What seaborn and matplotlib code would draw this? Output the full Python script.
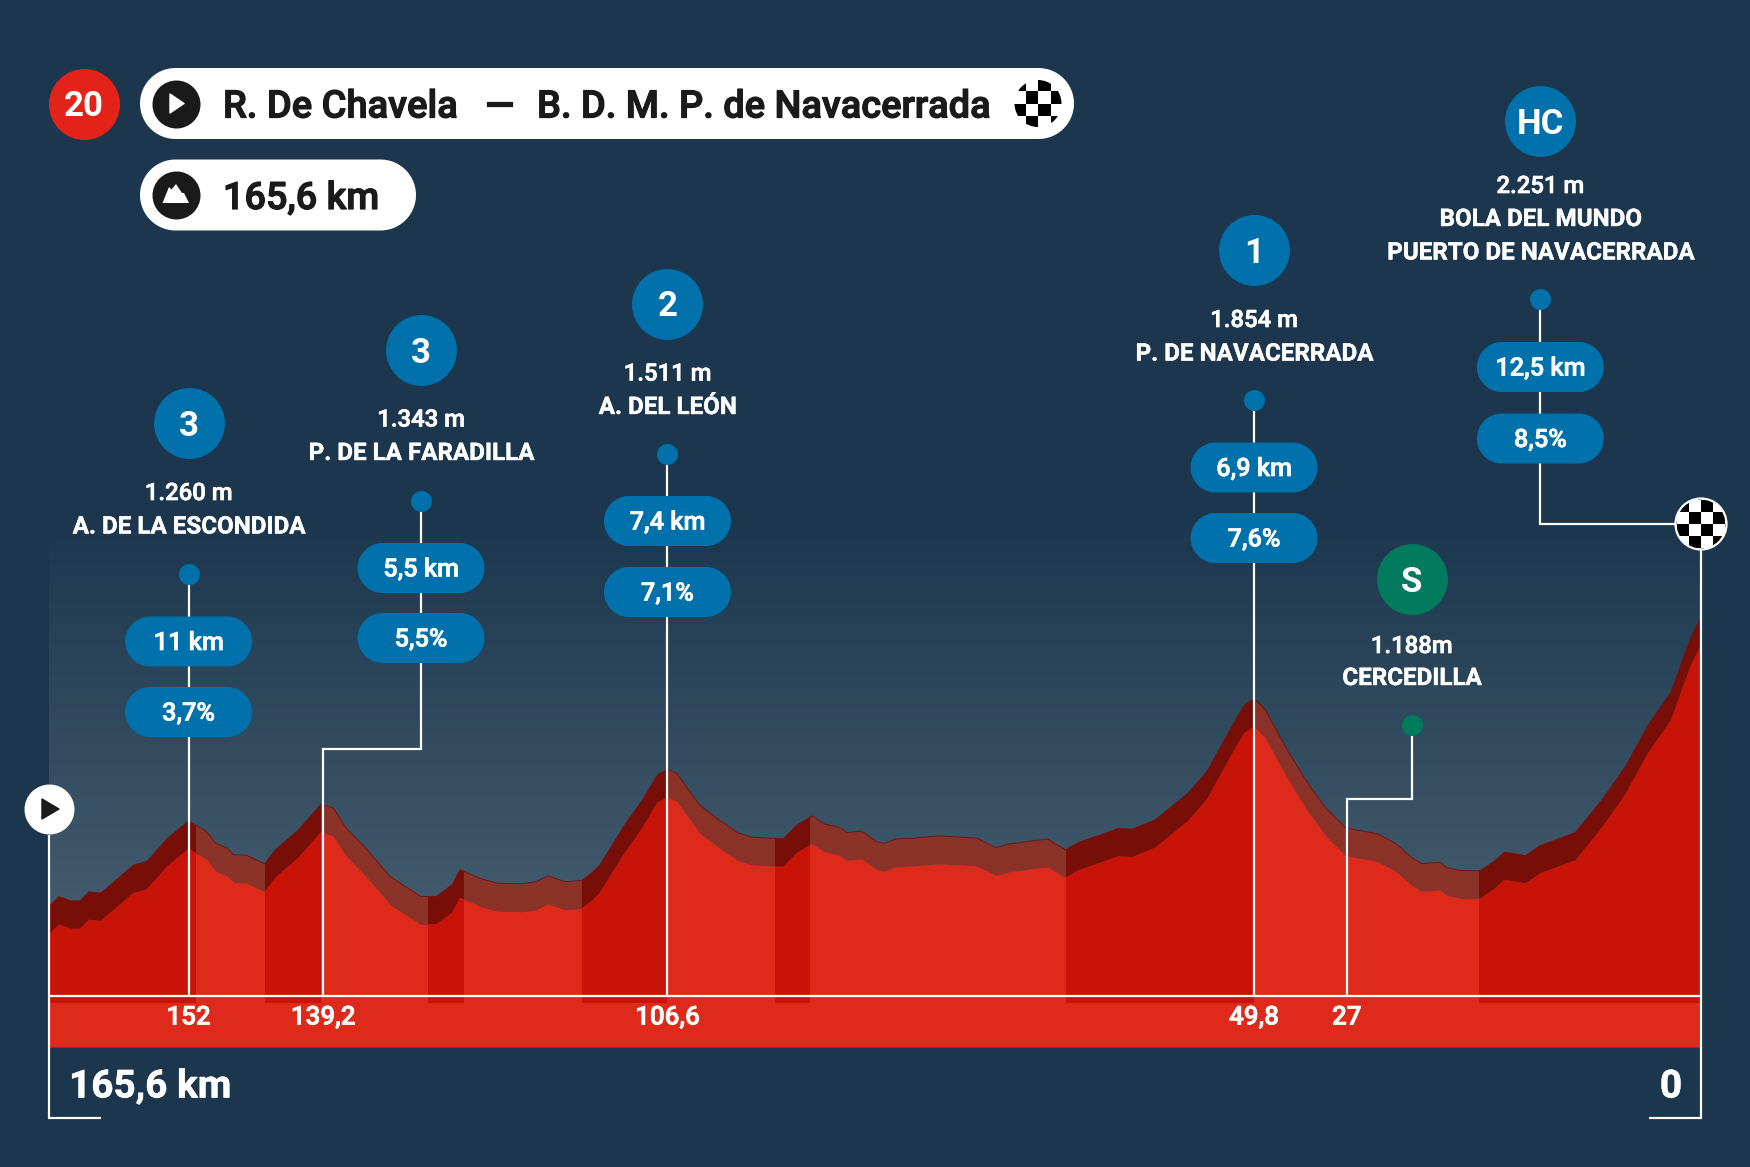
import matplotlib
matplotlib.use("Agg")
import matplotlib.pyplot as plt
import matplotlib.patheffects as pe
from matplotlib.colors import LinearSegmentedColormap
from matplotlib.patches import Circle, Polygon, Rectangle
import numpy as np
import seaborn as sns

sns.set_theme(style="white")
plt.rcParams["font.family"] = ["Roboto", "DejaVu Sans"]

# elevation profile (km to finish, metres)
profile_km = [165.6, 164.6, 163.4, 162.5, 161.6, 160.4, 157.1, 155.8, 153.7, 151.6, 149.8, 148.9, 147.7, 147.1,
              145.8, 144.0, 142.9, 140.6, 138.3, 137.1, 135.8, 133.7, 131.4, 128.3, 126.8, 125.2, 124.4, 122.2,
              120.6, 118.3, 116.8, 115.6, 113.9, 112.2, 111.2, 110.4, 108.1, 106.1, 104.6, 103.6, 102.7, 100.4,
              98.9, 96.6, 95.2, 92.0, 90.6, 89.1, 87.9, 86.4, 85.6, 84.1, 82.7, 81.9, 80.8, 78.9, 76.4, 72.6,
              70.7, 69.3, 67.0, 65.5, 63.7, 62.4, 59.7, 58.4, 57.0, 54.7, 51.4, 49.5, 47.2, 45.8, 44.8, 43.7,
              41.4, 39.5, 37.6, 35.6, 32.4, 30.6, 29.1, 28.0, 26.1, 25.5, 24.1, 22.1, 20.7, 19.7, 19.0, 17.6,
              16.1, 12.6, 9.9, 7.6, 5.3, 3.0, 1.1, 0.0]
profile_elev = [845, 893, 872, 872, 916, 910, 1047, 1063, 1177, 1260, 1209, 1152, 1128, 1096,
                1094, 1052, 1120, 1217, 1343, 1322, 1225, 1120, 990, 893, 893, 950, 1023, 978,
                958, 955, 965, 994, 966, 971, 1007, 1045, 1225, 1363, 1484, 1511, 1492, 1338,
                1282, 1204, 1182, 1173, 1241, 1285, 1246, 1230, 1204, 1211, 1161, 1151, 1172, 1177, 1188, 1177,
                1131, 1149, 1164, 1172, 1120, 1156, 1201, 1224, 1220, 1266, 1396, 1502, 1704, 1821, 1854, 1800,
                1598, 1449, 1321, 1226, 1198, 1151, 1087, 1053, 1060, 1034, 1019, 1019, 1066, 1109, 1104, 1092,
                1141, 1204, 1364, 1523, 1725, 1885, 2140, 2251]

# climbing stretches, darker on the profile
zone_start = [165.6, 143.9, 127.6, 112.2, 92.8, 63.7, 22.3]
zone_end = [150.9, 138.3, 124.0, 103.6, 89.3, 44.8, 0.0]

tick_km = [151.6, 138.1, 103.6, 44.8, 35.5]
tick_labels = ["152", "139,2", "106,6", "49,8", "27"]

climb_km = [151.6, 128.3, 103.6, 44.8, 29.0, 16.1]
climb_cat = ["3", "3", "2", "1", "S", "HC"]
climb_alt = ["1.260 m", "1.343 m", "1.511 m", "1.854 m", "1.188m", "2.251 m"]
climb_name = ["A. DE LA ESCONDIDA", "P. DE LA FARADILLA", "A. DEL LEÓN", "P. DE NAVACERRADA", "CERCEDILLA",
              "BOLA DEL MUNDO\nPUERTO DE NAVACERRADA"]
climb_len = ["11 km", "5,5 km", "7,4 km", "6,9 km", None, "12,5 km"]
climb_pct = ["3,7%", "5,5%", "7,1%", "7,6%", None, "8,5%"]

BG = "#1B364D"
LIGHT_RED = "#DE2A1B"
DARK_RED = "#C81309"
BAND = "#8A3228"
BAND_DARK = "#780E08"
BLUE = "#0071AB"
GREEN = "#027A5E"
INK = "#1A1A1A"
WHITE = "#FFFFFF"

BAND_DEPTH = 135
ZONE_FLOOR = 377
STRIP_FLOOR = 163

fig = plt.figure(figsize=(17.5, 11.67), dpi=100, facecolor=BG)
ax = fig.add_axes([0, 0, 1, 1])
ui = fig.add_axes([0, 0, 1, 1])
for a in (ax, ui):
    a.axis("off")
ui.patch.set_alpha(0)

km = np.array(profile_km)
elev = np.array(profile_elev)
front = elev - BAND_DEPTH

# sky gradient behind the profile
sky = LinearSegmentedColormap.from_list("sky", [BG, "#425A6C"])
ax.imshow(np.linspace(0, 1, 256).reshape(-1, 1), extent=[165.6, 0, 850, 2750], aspect="auto", cmap=sky,
          zorder=1, interpolation="bilinear")

# side wall and front of the relief
band = ax.fill_between(km, front, elev, color=BAND, lw=0, zorder=2)
face = ax.fill_between(km, STRIP_FLOOR, front, color=LIGHT_RED, lw=0, zorder=3)
sns.lineplot(x=profile_km, y=profile_elev, ax=ax, color=BAND_DARK, lw=0.6, estimator=None, zorder=2.5, legend=False)

for start, end in zip(zone_start, zone_end):
    wall = ax.bar((start + end) / 2, 3000, width=start - end, bottom=ZONE_FLOOR, color=BAND_DARK, lw=0, zorder=2.2)[0]
    wall.set_clip_path(band.get_paths()[0], transform=ax.transData)
    slab = ax.bar((start + end) / 2, 3000, width=start - end, bottom=ZONE_FLOOR, color=DARK_RED, lw=0, zorder=3.2)[0]
    slab.set_clip_path(face.get_paths()[0], transform=ax.transData)

ax.set_xlim(170.51, -4.91)
ax.set_ylim(-419, 5244)
ui.set_xlim(0, 1750)
ui.set_ylim(1167, 0)


def km_px(value):
    return ax.transData.transform((value, 0))[0]


def marks(xs, ys, px, color, z=6):
    sns.scatterplot(x=xs, y=ys, s=(px * 0.72) ** 2, color=color, linewidth=0, ax=ui, zorder=z, legend=False)


def label(x, y, txt, size, weight="medium", color=WHITE, ha="center", z=8, stroke=0.5):
    t = ui.text(x, y - 1, txt, fontsize=size, fontweight=weight, color=color, ha=ha, va="center_baseline", zorder=z)
    if stroke:
        t.set_path_effects([pe.withStroke(linewidth=stroke, foreground=color)])


def pill(xc, yc, w, h, color=BLUE, z=5):
    r = h / 2
    a = np.linspace(-np.pi / 2, np.pi / 2, 40)
    right = np.column_stack([xc + w / 2 - r + r * np.cos(a), yc + r * np.sin(a)])
    left = np.column_stack([xc - w / 2 + r - r * np.cos(a), yc - r * np.sin(a)])
    ui.add_patch(Polygon(np.vstack([right, left]), fc=color, ec="none", zorder=z))


def checker(xc, yc, d, cell, z=7):
    disc = Circle((xc, yc), d / 2, fc=WHITE, ec="none", zorder=z)
    ui.add_patch(disc)
    for i in range(-3, 3):
        for j in range(-3, 3):
            if (i + j) % 2 == 0:
                sq = Rectangle((xc + i * cell, yc + j * cell), cell, cell, fc="black", ec="none", zorder=z + 0.1)
                ui.add_patch(sq)
                sq.set_clip_path(disc)


def leader(xs, ys, z=4):
    ui.plot(xs, ys, color=WHITE, lw=1.6, solid_joinstyle="miter", solid_capstyle="butt", zorder=z)


# where each climb's block sits in the picture (pixels from the top)
badge_y = [423, 350, 303.5, 250, 579, 120.5]
alt_y = [492, 418.5, 372.6, 319, 645, 185]
name_y = [525.5, 452, 406, 352.6, 677, 218]
dot_y = [573.5, 501, 454, 399.5, 725, 299]
len_y = [641.5, 568, 521, 467.5, None, 367]
pct_y = [712, 638, 592, 538, None, 438.5]
BASE_Y = 996

climb_px = [km_px(v) for v in climb_km]
tick_px = [km_px(v) for v in tick_km]
end_px = km_px(0)
start_px = km_px(165.6)

# leaders from the climb blocks to the route
leader([tick_px[0]] * 2, [dot_y[0], BASE_Y])
leader([climb_px[1], climb_px[1], tick_px[1], tick_px[1]], [dot_y[1], 748.6, 748.6, BASE_Y])
leader([tick_px[2]] * 2, [dot_y[2], BASE_Y])
leader([tick_px[3]] * 2, [dot_y[3], BASE_Y])
leader([climb_px[4], climb_px[4], tick_px[4], tick_px[4]], [dot_y[4], 799, 799, BASE_Y])
leader([climb_px[5], climb_px[5], end_px], [dot_y[5], 524, 524])

# baseline and end brackets
leader([start_px, end_px], [BASE_Y, BASE_Y], z=4.5)
leader([start_px, start_px, 101], [835, 1118, 1118])
leader([end_px, end_px, 1649], [549, 1118, 1118])
ui.plot([0, 1750], [1166.5, 1166.5], color="#56697A", lw=0.8, zorder=3)

colors = [BLUE, BLUE, BLUE, BLUE, GREEN, BLUE]
for i in range(len(climb_cat)):
    marks([climb_px[i]], [badge_y[i]], 71, colors[i])
    marks([climb_px[i]], [dot_y[i]], 21, colors[i])
    label(climb_px[i], badge_y[i] + 1, climb_cat[i], 25, "bold", stroke=0)
    label(climb_px[i], alt_y[i], climb_alt[i], 17.2)
    for n, line in enumerate(climb_name[i].split("\n")):
        label(climb_px[i], name_y[i] + n * 33.5, line, 17.4, "bold", stroke=0.3)
    if climb_len[i]:
        pill(climb_px[i], len_y[i], 127, 50)
        pill(climb_px[i], pct_y[i], 127, 50)
        label(climb_px[i], len_y[i], climb_len[i], 18.2)
        label(climb_px[i], pct_y[i], climb_pct[i], 18.2)

for x, txt in zip(tick_px, tick_labels):
    label(x, 1016, txt, 18.7)

label(69, 1084, "165,6 km", 27.9, "bold", ha="left", stroke=0.4)
label(1671, 1084, "0", 27.9, "bold", stroke=0.4)

# start and finish discs
marks([start_px], [809], 50, WHITE)
ui.add_patch(Polygon([[start_px - 7, 799], [start_px - 7, 819], [start_px + 10, 809]], fc=INK, ec=INK, lw=1, joinstyle="round", zorder=7))
checker(end_px, 524, 50, 12)
ui.add_patch(Circle((end_px, 524), 25.5, fc="none", ec=WHITE, lw=1.6, zorder=7.5))

# header
marks([84], [103.5], 71, "#E3231A")
label(84, 104.5, "20", 25, "bold", stroke=0)
pill(607, 103.5, 934, 71, WHITE)
marks([175.5], [103.5], 48, INK)
ui.add_patch(Polygon([[170, 94], [170, 113], [184, 103.5]], fc=WHITE, ec=WHITE, lw=1, joinstyle="round", zorder=7))
label(223, 104, "R. De Chavela", 27.4, ha="left", color=INK, stroke=0.9)
label(499, 104, "—", 27.4, ha="center", color=INK, stroke=0.9)
label(537, 104, "B. D. M. P. de Navacerrada", 27.3, ha="left", color=INK, stroke=0.9)
checker(1038, 103.5, 47, 12.5)

pill(278, 195, 276, 71, WHITE)
marks([175.5], [195], 48, INK)
ui.add_patch(Polygon([[162.5, 203], [169, 187], [171.5, 189.5], [176, 184], [182, 193], [184, 193], [189, 203]], fc=WHITE, ec="none", zorder=7))
label(223, 195.5, "165,6 km", 27.2, ha="left", color=INK, stroke=0.9)

ui.set_xlim(0, 1750)
ui.set_ylim(1167, 0)
fig.savefig("out.png", dpi=100)
